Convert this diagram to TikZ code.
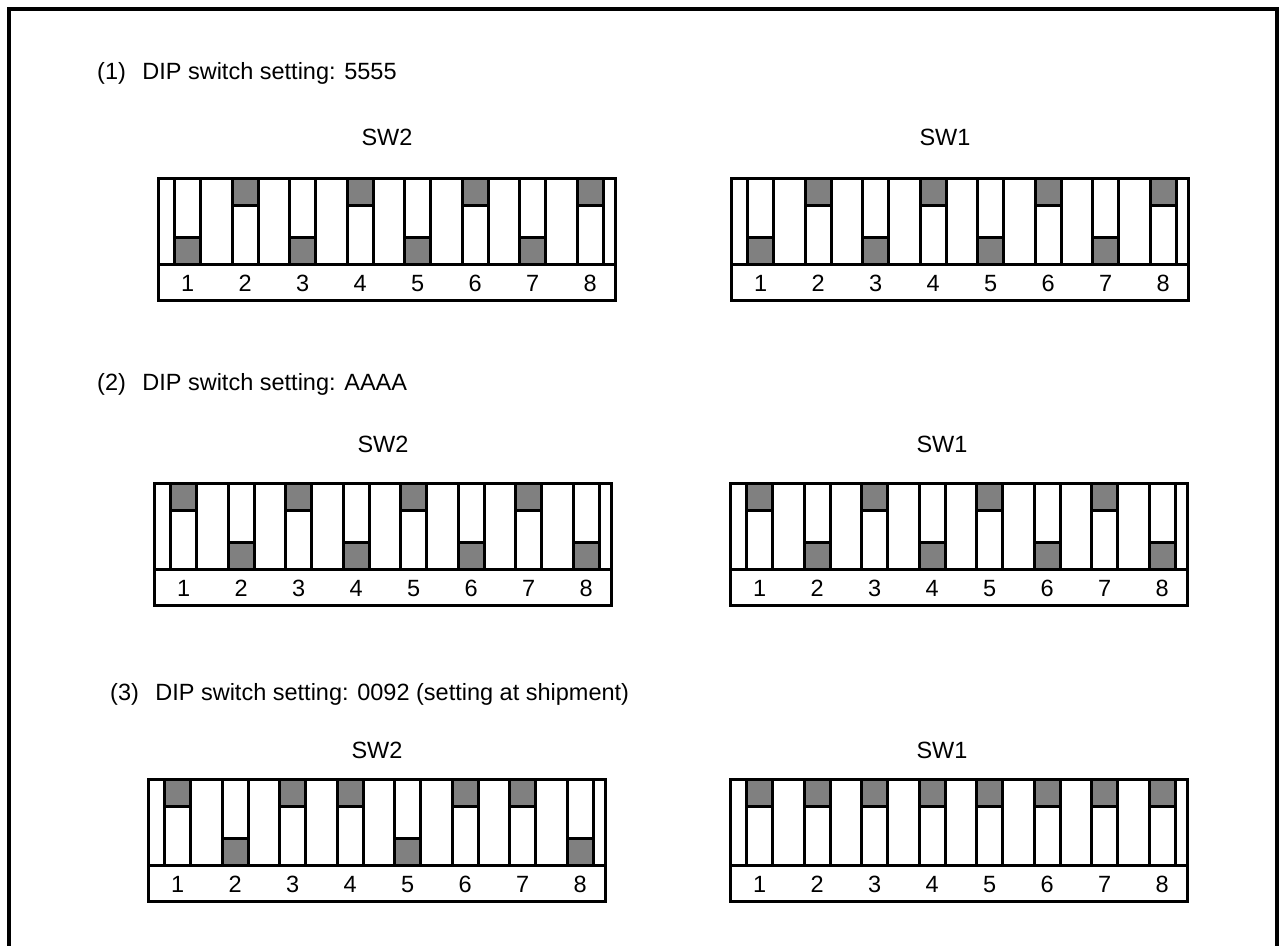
\documentclass[tikz,border=0pt]{standalone}
\usepackage{fontspec}
\setmainfont{Liberation Sans}
\definecolor{knob}{HTML}{808080}

% one DIP switch: name, outer left x, outer top y, knob offsets (0 = up, 59 = down)
\newcommand{\dipsw}[4]{%
  \draw[swbox] (#2+1.6,#3+1.6) rectangle ++(457,122);
  \draw[swbox] (#2+1.6,#3+87.6) -- ++(457,0);
  \foreach \off [count=\i] in {#4} {
    \draw[swbox] (#2+17.6+57.5*\i-57.5,#3+1.6) rectangle ++(26,86);
    \draw[swbox,fill=knob] (#2+17.6+57.5*\i-57.5,#3+1.6+\off) rectangle ++(26,27);
    \node[anchor=base] (#1-\i) at (#2+30.6+57.5*\i-57.5,#3+114) {\i};
  }
}

\begin{document}
\begin{tikzpicture}[x=1pt,y=-1pt]
\tikzstyle{every node}=[font=\fontsize{23.5}{28}\selectfont,inner sep=0pt]
\tikzstyle{swbox}=[line width=3.2pt]

\useasboundingbox (0,0) rectangle (1281,945);

% outer frame, open at the bottom
\draw[line width=4pt] (8.7,960) -- (8.7,8.7) -- (1277,8.7) -- (1277,960);

% (1) 5555
\node[anchor=west] (t1) at (97,73) {(1)\hspace{0.7em}DIP switch setting: 5555};
\node (l12) at (387,137) {SW2};
\node (l11) at (945,137) {SW1};
\dipsw{a2}{157}{177}{59,0,59,0,59,0,59,0}
\dipsw{a1}{730}{177}{59,0,59,0,59,0,59,0}

% (2) AAAA
\node[anchor=west] (t2) at (97,384) {(2)\hspace{0.7em}DIP switch setting: AAAA};
\node (l22) at (383,444) {SW2};
\node (l21) at (942,444) {SW1};
\dipsw{b2}{153}{482}{0,59,0,59,0,59,0,59}
\dipsw{b1}{729}{482}{0,59,0,59,0,59,0,59}

% (3) 0092, setting at shipment
\node[anchor=west] (t3) at (110,694) {(3)\hspace{0.7em}DIP switch setting: 0092 (setting at shipment)};
\node (l32) at (377,750) {SW2};
\node (l31) at (942,750) {SW1};
\dipsw{c2}{147}{778}{0,59,0,0,59,0,0,59}
\dipsw{c1}{729}{778}{0,0,0,0,0,0,0,0}

\end{tikzpicture}
\end{document}
